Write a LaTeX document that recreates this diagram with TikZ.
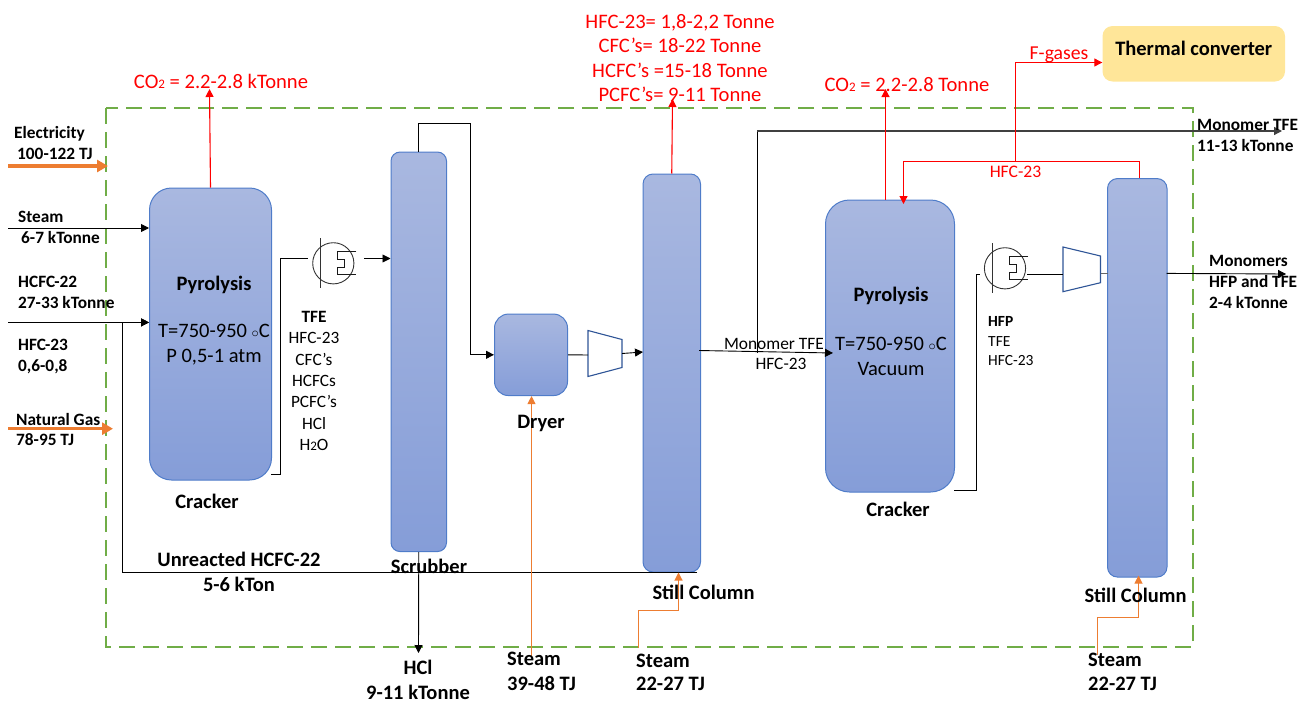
\documentclass[tikz,border=0pt]{standalone}
\usepackage{amsmath}
\usepackage{fontspec}
\setmainfont{Carlito}
\usepackage{tikz}
\usetikzlibrary{arrows.meta,positioning,calc}

\definecolor{vesseltop}{HTML}{A9B8E0}
\definecolor{vesselbot}{HTML}{859DD8}
\definecolor{vesseledge}{HTML}{4F7CC9}
\definecolor{compedge}{HTML}{2F5597}
\definecolor{boxgreen}{HTML}{70AD47}
\definecolor{steamorange}{HTML}{ED7D31}
\definecolor{convfill}{HTML}{FFE699}
\newcommand{\lowtwo}{{\fontsize{13}{13}\selectfont 2}}

\begin{document}
\begin{tikzpicture}[
  x=1pt, y=-1pt,
  vessel/.style={draw=vesseledge, line width=1pt, top color=vesseltop, bottom color=vesselbot, inner sep=0pt},
  comp/.style={draw=compedge, line width=1.1pt, fill=white},
  lbl/.style={font=\fontsize{17.3}{20.8}\selectfont\bfseries, align=left, inner sep=0pt},
  head lbl/.style={font=\fontsize{20.5}{25}\selectfont\bfseries, align=center, inner sep=0pt},
  thin lbl/.style={font=\fontsize{17.3}{21.4}\selectfont, align=center, inner sep=0pt},
  big lbl/.style={font=\fontsize{20.5}{25}\selectfont, align=center, inner sep=0pt},
  red lbl/.style={font=\fontsize{20.6}{24.6}\selectfont, text=red, align=center, inner sep=0pt},
  flow/.style={line width=.9pt, -{Triangle[length=8pt,width=8pt]}},
  pipe/.style={line width=.9pt},
  red flow/.style={line width=1.1pt, red, -{Triangle[length=8pt,width=8pt]}},
  steam flow/.style={line width=1.1pt, steamorange, -{Triangle[length=8pt,width=8pt]}},
  heat flow/.style={line width=3.2pt, steamorange, -{Triangle[length=11pt,width=12pt]}},
  exch/.pic={
    \draw[line width=.9pt, black!80] (0,0) circle (20.6);
    \draw[line width=.9pt, black!80] (-12.5,-25) -- (-12.5,25);
    \draw[line width=.9pt, black!90] (23,-11.6) -- (4.3,-11.6) -- (4.3,-4) -- (11,-4) -- (11,4) -- (4.3,4) -- (4.3,11.6) -- (23,11.6);
  }
]
  \useasboundingbox (0,0) rectangle (1314,704);

  % battery limit
  \draw[boxgreen, line width=2.4pt, dash pattern=on 16pt off 8pt] (106,108) rectangle (1193,647);

  % vessels
  \node[vessel, rounded corners=22pt, minimum width=122pt, minimum height=292pt] (crackerA) at (210.5,334) {};
  \node[vessel, rounded corners=9pt, minimum width=55.5pt, minimum height=399.5pt] (scrubber) at (418.75,351.8) {};
  \node[vessel, rounded corners=14pt, minimum width=73pt, minimum height=81.5pt] (dryer) at (531,354.8) {};
  \node[vessel, rounded corners=10pt, minimum width=57.5pt, minimum height=398pt] (stillA) at (671.75,373) {};
  \node[vessel, rounded corners=24pt, minimum width=129pt, minimum height=292pt] (crackerB) at (890,346) {};
  \node[vessel, rounded corners=10pt, minimum width=59.5pt, minimum height=398.5pt] (stillB) at (1137.25,377.8) {};
  \node[fill=convfill, rounded corners=10pt, minimum width=182.5pt, minimum height=55.5pt, inner sep=0pt] (conv) at (1193.75,53.75) {};

  % compressors and coolers
  \draw[comp] (588,330.5) -- (622,339.5) -- (622,367.5) -- (588,376.5) -- cycle;
  \draw[comp] (1063,247) -- (1100.5,256) -- (1100.5,282.7) -- (1063,291.7) -- cycle;
  \pic at (333.3,263.3) {exch};
  \pic at (1005,268.3) {exch};

  \coordinate (elecIn) at (8,166);
  \coordinate (elecEnd) at (108,166);
  \coordinate (gasIn) at (8,428.7);
  \coordinate (gasEnd) at (113,428.7);
  \coordinate (steamIn) at (8,228);
  \coordinate (hcfcIn) at (8,322.4);
  \coordinate (recBend) at (122.6,322.4);
  \coordinate (crackerAOut) at (271,474);
  \coordinate (coolABend) at (280,258.5);
  \coordinate (coolAIn) at (308,258.5);
  \coordinate (coolAOut) at (364,258.5);
  \coordinate (compAIn) at (588,355);
  \coordinate (compAOut) at (622,353.5);
  \coordinate (stillAIn) at (643,352);
  \coordinate (stillAOut) at (699,350.5);
  \coordinate (crackerBIn) at (833,353);
  \coordinate (monoOut) at (1282,131);
  \coordinate (monoUp) at (757.3,353);
  \coordinate (crackerBOut) at (954,490);
  \coordinate (coolBBend) at (976,274);
  \coordinate (coolBIn) at (980,274);
  \coordinate (coolBOut) at (1027,274.5);
  \coordinate (compBIn) at (1063,274.5);
  \coordinate (compBOut) at (1100.5,273);
  \coordinate (stillBIn) at (1107.5,273);
  \coordinate (stillBOut) at (1166.7,273.4);
  \coordinate (monosOut) at (1286,274);
  \coordinate (hclOut) at (418.5,653);
  \coordinate (co2A) at (209.5,89);
  \coordinate (fgasA) at (672.5,99);
  \coordinate (co2B) at (885.5,89);
  \coordinate (recTop) at (1139.5,161.5);
  \coordinate (recIn) at (903.5,204);
  \coordinate (tapBend) at (1015.5,62.5);
  \coordinate (tapFoot) at (1015.5,161.5);
  \coordinate (dryerSteam) at (531.5,656);
  \coordinate (stillASteam) at (638.5,648);
  \coordinate (stillABend) at (678.5,610.5);
  \coordinate (stillBSteam) at (1097.5,655);
  \coordinate (stillBBend) at (1138.5,617.5);

  % energy and feeds
  \draw[heat flow] (elecIn) -- (elecEnd);
  \draw[heat flow] (gasIn) -- (gasEnd);
  \draw[flow] (steamIn) -- (steamIn -| crackerA.west);
  \draw[flow] (hcfcIn) -- (hcfcIn -| crackerA.west);
  \draw[pipe] ([xshift=-4pt]stillA.south east) -| (recBend);
  \draw[flow] (recBend) -- (recBend -| crackerA.west);

  % process line
  \draw[pipe] (crackerAOut) -| (coolABend) -- (coolAIn);
  \draw[flow] (coolAOut) -- (coolAOut -| scrubber.west);
  \draw[flow] (scrubber.north) |- ++(52,-28.5) |- (dryer.west);
  \draw[pipe] (dryer.east) -- (compAIn);
  \draw[flow] (compAOut) -- (stillAIn);
  \draw[flow] (stillAOut) -- (crackerBIn);
  \draw[pipe] (monoUp) -- (monoUp |- monoOut);
  \draw[flow, black!75, line width=1.2pt] (monoUp |- monoOut) -- (monoOut);
  \draw[pipe] (crackerBOut) -| (coolBBend) -- (coolBIn);
  \draw[pipe] (coolBOut) -- (compBIn);
  \draw[pipe, black!60] (compBOut) -- (stillBIn);
  \draw[flow] (stillBOut) -- (monosOut);
  \draw[flow] (scrubber.south) -- (hclOut);

  % emissions
  \draw[red flow] (crackerA.north) -- (co2A);
  \draw[red flow] (stillA.north) -- (fgasA);
  \draw[red flow] (co2B |- crackerB.north) -- (co2B);
  \draw[red flow] (recTop |- stillB.north) -- (recTop) -| (recIn);
  \draw[red flow] (tapFoot) -- (tapBend) -- (tapBend -| conv.west);

  % steam
  \draw[steam flow] (dryerSteam) -- (dryerSteam |- dryer.south);
  \draw[steam flow] (stillASteam) |- (stillABend) -- (stillABend |- stillA.south);
  \draw[steam flow] (stillBSteam) |- (stillBBend) -- ([yshift=2pt]stillBBend |- stillB.south);

  % labels
  \node[lbl, anchor=west] (elecLbl) at (14,143) {Electricity\\[-.2pt]\hspace{3pt}100-122 TJ};
  \node[lbl, anchor=west] (steamLbl) at (18,227.5) {Steam\\\hspace{3pt}6-7 kTonne};
  \node[lbl, anchor=west] (hcfcLbl) at (18,292.5) {HCFC-22\\27-33 kTonne};
  \node[lbl, anchor=west] (hfcLbl) at (18,356.5) {HFC-23\\0,6-0,8};
  \node[lbl, anchor=west] (gasLbl) at (16,429.5) {Natural Gas\\78-95 TJ};
  \node[head lbl] (pyroA) at (214,284.5) {Pyrolysis};
  \node[big lbl] (condA) at (214,345) {T=750-950 $\scriptstyle\circ$C\\P 0,5-1 atm};
  \node[head lbl] (crackerALbl) at (207,501) {Cracker};
  \node[thin lbl] (mixLbl) at (314,381) {\textbf{TFE}\\HFC-23\\CFC's\\HCFCs\\PCFC's\\HCl\\H\lowtwo O};
  \node[head lbl] (unreactLbl) at (239,571.5) {Unreacted HCFC-22\\5-6 kTon};
  \node[head lbl] (scrubLbl) at (429,566) {Scrubber};
  \node[head lbl] (hclLbl) at (418,680) {HCl\\9-11 kTonne};
  \node[head lbl] (dryerLbl) at (541,423) {Dryer};
  \node[head lbl, align=left, anchor=west, font=\fontsize{20.5}{24.5}\selectfont\bfseries] (steamD) at (507,671.5) {Steam\\39-48 TJ};
  \node[head lbl, align=left, anchor=west, font=\fontsize{20.5}{23.5}\selectfont\bfseries] (steamA) at (636,672.5) {Steam\\22-27 TJ};
  \node[head lbl] (stillALbl) at (703.5,592) {Still Column};
  \node[head lbl] (crackerBLbl) at (898,509) {Cracker};
  \node[head lbl] (stillBLbl) at (1135.5,595) {Still Column};
  \node[head lbl, align=left, anchor=west, font=\fontsize{20.5}{24.5}\selectfont\bfseries] (steamB) at (1088,672) {Steam\\22-27 TJ};
  \node[thin lbl, font=\fontsize{17.4}{20.5}\selectfont] (monoLbl) at (774,354) {Monomer TFE\\\hspace{14pt}HFC-23};
  \node[head lbl] (pyroB) at (891,295.5) {Pyrolysis};
  \node[big lbl] (condB) at (891,356.5) {T=750-950 $\scriptstyle\circ$C\\Vacuum};
  \node[thin lbl, align=left, anchor=west, font=\fontsize{15.5}{19.5}\selectfont] (hfpLbl) at (988,341.5) {\textbf{HFP}\\TFE\\HFC-23};
  \node[red lbl, font=\fontsize{17.6}{18}\selectfont] (hfcRed) at (1015.5,172) {HFC-23};
  \node[red lbl, font=\fontsize{19.7}{20}\selectfont] (fgasLbl) at (1059,55) {F-gases};
  \node[red lbl] (co2ALbl) at (221,81) {CO\lowtwo{} = 2.2-2.8 kTonne};
  \node[red lbl] (co2BLbl) at (907,85) {CO\lowtwo{} = 2.2-2.8 Tonne};
  \node[red lbl] (ventLbl) at (680,58) {HFC-23= 1,8-2,2 Tonne\\CFC's= 18-22 Tonne\\HCFC's =15-18 Tonne\\PCFC's= 9-11 Tonne};
  \node[head lbl] (convLbl) at (conv |- 0,48) {Thermal converter};
  \node[lbl, anchor=west] (monoOutLbl) at (1197,135.5) {Monomer TFE\\11-13 kTonne};
  \node[lbl, anchor=west] (monosLbl) at (1209,282) {Monomers\\HFP and TFE\\2-4 kTonne};
\end{tikzpicture}
\end{document}
